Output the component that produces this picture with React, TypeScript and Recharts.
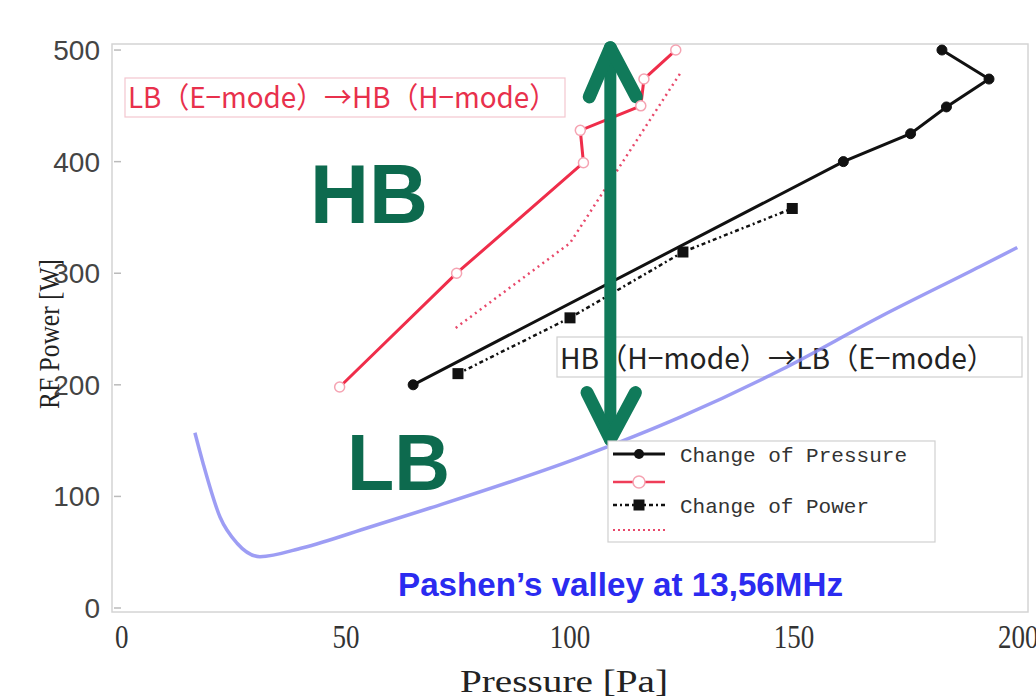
import { Line, LineChart, ReferenceLine, XAxis, YAxis } from 'recharts'

// Change of Pressure (black, filled circles)
const pressureX = [65, 161, 176, 184, 193.5, 183]
const pressureY = [200, 400, 425, 449, 474, 500]

// red counterpart of Change of Pressure (open circles)
const pressureRedX = [48.6, 74.7, 103, 102.3, 115.8, 116.5, 123.6]
const pressureRedY = [198, 300, 399, 428, 450, 474, 500]

// Change of Power (black dotted, squares)
const powerX = [75, 100, 125.2, 149.6]
const powerY = [210, 260, 319, 358]

// red counterpart of Change of Power (dotted)
const powerRedX = [74.5, 100, 124.9]
const powerRedY = [251, 327, 481]

// Paschen valley curve
const paschenX = [16.3, 18.1, 21.9, 25.7, 30.8, 40.4, 55.4, 68.8, 102.2, 124.6, 146.9, 169.2, 191.5, 199.8]
const paschenY = [157, 130, 81.5, 58, 46, 54, 72.6, 89.6, 135, 171, 213, 261, 306, 323]

const xTicks = [0, 50, 100, 150, 200]
const yTicks = [0, 100, 200, 300, 400, 500]

const zip = (xs: number[], ys: number[]) => xs.map((x, i) => ({ x, y: ys[i] }))

const pressure = zip(pressureX, pressureY)
const pressureRed = zip(pressureRedX, pressureRedY)
const power = zip(powerX, powerY)
const powerRed = zip(powerRedX, powerRedY)
const paschen = zip(paschenX, paschenY)

const GREEN = '#107a5a'
const RED = '#ef2d4a'

function XTick(props: any) {
  const { x, y, payload } = props
  const label = String(payload.value)
  return (
    <text
      x={x}
      y={y}
      dy="0.74em"
      textAnchor="middle"
      fontFamily="'Liberation Serif', serif"
      fontSize={34}
      fill="#333"
      textLength={label.length * 13.5}
      lengthAdjust="spacingAndGlyphs"
    >
      {label}
    </text>
  )
}

function SquareDot(props: any) {
  const { cx, cy, index } = props
  return <rect key={`sq-${index}`} x={cx - 5.5} y={cy - 5.5} width={11} height={11} fill="#111" />
}

export default function App() {
  return (
    <div style={{ position: 'relative', width: 1036, height: 699, background: '#fff', overflow: 'hidden' }}>
      <style>{'body{margin:0}'}</style>

      {/* background: frame, annotation boxes, axis titles */}
      <svg width={1036} height={699} style={{ position: 'absolute', left: 0, top: 0 }}>
        <rect x={112} y={44} width={916} height={568} fill="none" stroke="#d4d4d4" strokeWidth={1.5} />
        {yTicks.map((t) => (
          <line key={t} x1={114} x2={121} y1={608 - t * 1.1159} y2={608 - t * 1.1159} stroke="#bbb" strokeWidth={1.5} />
        ))}

        <rect x={125} y={78} width={440} height={39} fill="#fff" stroke="#f3c6cf" strokeWidth={1.2} />
        <text
          x={128}
          y={108}
          fontFamily="'Noto Sans CJK JP', sans-serif"
          fontSize={29}
          fill="#e8304c"
          textLength={429}
          lengthAdjust="spacingAndGlyphs"
        >
          LB（E−mode）→HB（H−mode）
        </text>

        <rect x={557} y={337} width={465} height={40} fill="#fff" stroke="#cfcfcf" strokeWidth={1.2} />
        <text
          x={560}
          y={369}
          fontFamily="'Noto Sans CJK JP', sans-serif"
          fontSize={29}
          fill="#222"
          textLength={435}
          lengthAdjust="spacingAndGlyphs"
        >
          HB（H−mode）→LB（E−mode）
        </text>

        <text x={310} y={223} fontFamily="'Liberation Sans', Arial, sans-serif" fontWeight="bold" fontSize={84} fill="#0d6a4e" textLength={118} lengthAdjust="spacingAndGlyphs">
          HB
        </text>
        <text x={347} y={490} fontFamily="'Liberation Sans', Arial, sans-serif" fontWeight="bold" fontSize={80} fill="#0d6a4e" textLength={103} lengthAdjust="spacingAndGlyphs">
          LB
        </text>
        <text x={398} y={596} fontFamily="'Liberation Sans', Arial, sans-serif" fontWeight="bold" fontSize={33} fill="#2b2bf0" textLength={445} lengthAdjust="spacingAndGlyphs">
          Pashen’s valley at 13,56MHz
        </text>

        <text
          transform="translate(59,334) rotate(-90)"
          textAnchor="middle"
          fontFamily="'Liberation Serif', serif"
          fontSize={30}
          fill="#222"
          textLength={150}
          lengthAdjust="spacingAndGlyphs"
        >
          RF Power [W]
        </text>
        <text x={564} y={692} textAnchor="middle" fontFamily="'Liberation Serif', serif" fontSize={31} fill="#222" textLength={208} lengthAdjust="spacingAndGlyphs">
          Pressure [Pa]
        </text>
      </svg>

      <div style={{ position: 'absolute', left: 0, top: 0 }}>
        <LineChart width={1036} height={699} margin={{ top: 44, right: 8, bottom: 0, left: 0 }}>
          <XAxis
            type="number"
            dataKey="x"
            domain={[-2.2, 202.2]}
            ticks={xTicks}
            allowDataOverflow
            height={87}
            axisLine={false}
            tickLine={false}
            tickSize={0}
            tickMargin={11}
            tick={<XTick />}
            interval={0}
          />
          <YAxis
            type="number"
            dataKey="y"
            domain={[-3.6, 505.4]}
            ticks={yTicks}
            allowDataOverflow
            width={112}
            axisLine={false}
            tickLine={false}
            tickSize={0}
            tickMargin={12}
            interval={0}
            tick={{ fill: '#444', fontSize: 28, fontFamily: "'Liberation Sans', Arial, sans-serif" }}
          />

          <Line
            data={paschen}
            dataKey="y"
            type="monotone"
            stroke="#8c8cf2"
            strokeOpacity={0.85}
            strokeWidth={3.5}
            dot={false}
            activeDot={false}
            isAnimationActive={false}
          />
          <Line
            data={powerRed}
            dataKey="y"
            type="linear"
            stroke="#e8486a"
            strokeWidth={2.5}
            strokeDasharray="2 4"
            dot={false}
            activeDot={false}
            isAnimationActive={false}
          />
          <Line
            data={pressureRed}
            dataKey="y"
            type="linear"
            stroke={RED}
            strokeWidth={3}
            dot={{ r: 5, fill: '#fff', stroke: '#f5a3b2', strokeWidth: 1.5 }}
            activeDot={false}
            isAnimationActive={false}
          />
          <Line
            data={power}
            dataKey="y"
            type="linear"
            stroke="#111"
            strokeWidth={2.5}
            strokeDasharray="4 3 2 3"
            dot={<SquareDot />}
            activeDot={false}
            isAnimationActive={false}
          />
          <Line
            data={pressure}
            dataKey="y"
            type="linear"
            stroke="#111"
            strokeWidth={3}
            dot={{ r: 5, fill: '#111', stroke: '#111', strokeWidth: 1 }}
            activeDot={false}
            isAnimationActive={false}
          />

          {/* double-headed green arrow */}
          <ReferenceLine segment={[{ x: 109, y: 152 }, { x: 109, y: 501 }]} stroke={GREEN} strokeWidth={12} />
          <ReferenceLine segment={[{ x: 109, y: 502 }, { x: 104.3, y: 458 }]} stroke={GREEN} strokeWidth={13} strokeLinecap="round" />
          <ReferenceLine segment={[{ x: 109, y: 502 }, { x: 114.8, y: 458 }]} stroke={GREEN} strokeWidth={13} strokeLinecap="round" />
          <ReferenceLine segment={[{ x: 109, y: 151 }, { x: 103.8, y: 193 }]} stroke={GREEN} strokeWidth={13} strokeLinecap="round" />
          <ReferenceLine segment={[{ x: 109, y: 151 }, { x: 114.6, y: 193 }]} stroke={GREEN} strokeWidth={13} strokeLinecap="round" />
        </LineChart>
      </div>

      {/* legend */}
      <svg width={1036} height={699} style={{ position: 'absolute', left: 0, top: 0, pointerEvents: 'none' }}>
        <rect x={608} y={441} width={327} height={101} fill="#fff" stroke="#d0d0d0" strokeWidth={1.2} />
        <line x1={613} x2={665} y1={454} y2={454} stroke="#111" strokeWidth={3} />
        <circle cx={639} cy={454} r={5} fill="#111" />
        <text x={680} y={454} dy="0.36em" fontFamily="'Liberation Mono', monospace" fontSize={21} fill="#333" textLength={227} lengthAdjust="spacingAndGlyphs">
          Change of Pressure
        </text>
        <line x1={613} x2={665} y1={482} y2={482} stroke="#ef3d58" strokeWidth={2.5} />
        <circle cx={639} cy={482} r={6} fill="#fff" stroke="#f5a3b2" strokeWidth={1.5} />
        <line x1={613} x2={665} y1={505} y2={505} stroke="#111" strokeWidth={2.5} strokeDasharray="4 3 2 3" />
        <rect x={633.5} y={499.5} width={11} height={11} fill="#111" />
        <text x={680} y={505} dy="0.36em" fontFamily="'Liberation Mono', monospace" fontSize={21} fill="#333" textLength={189} lengthAdjust="spacingAndGlyphs">
          Change of Power
        </text>
        <line x1={613} x2={665} y1={530} y2={530} stroke="#e8486a" strokeWidth={2} strokeDasharray="2 3" />
      </svg>
    </div>
  )
}
